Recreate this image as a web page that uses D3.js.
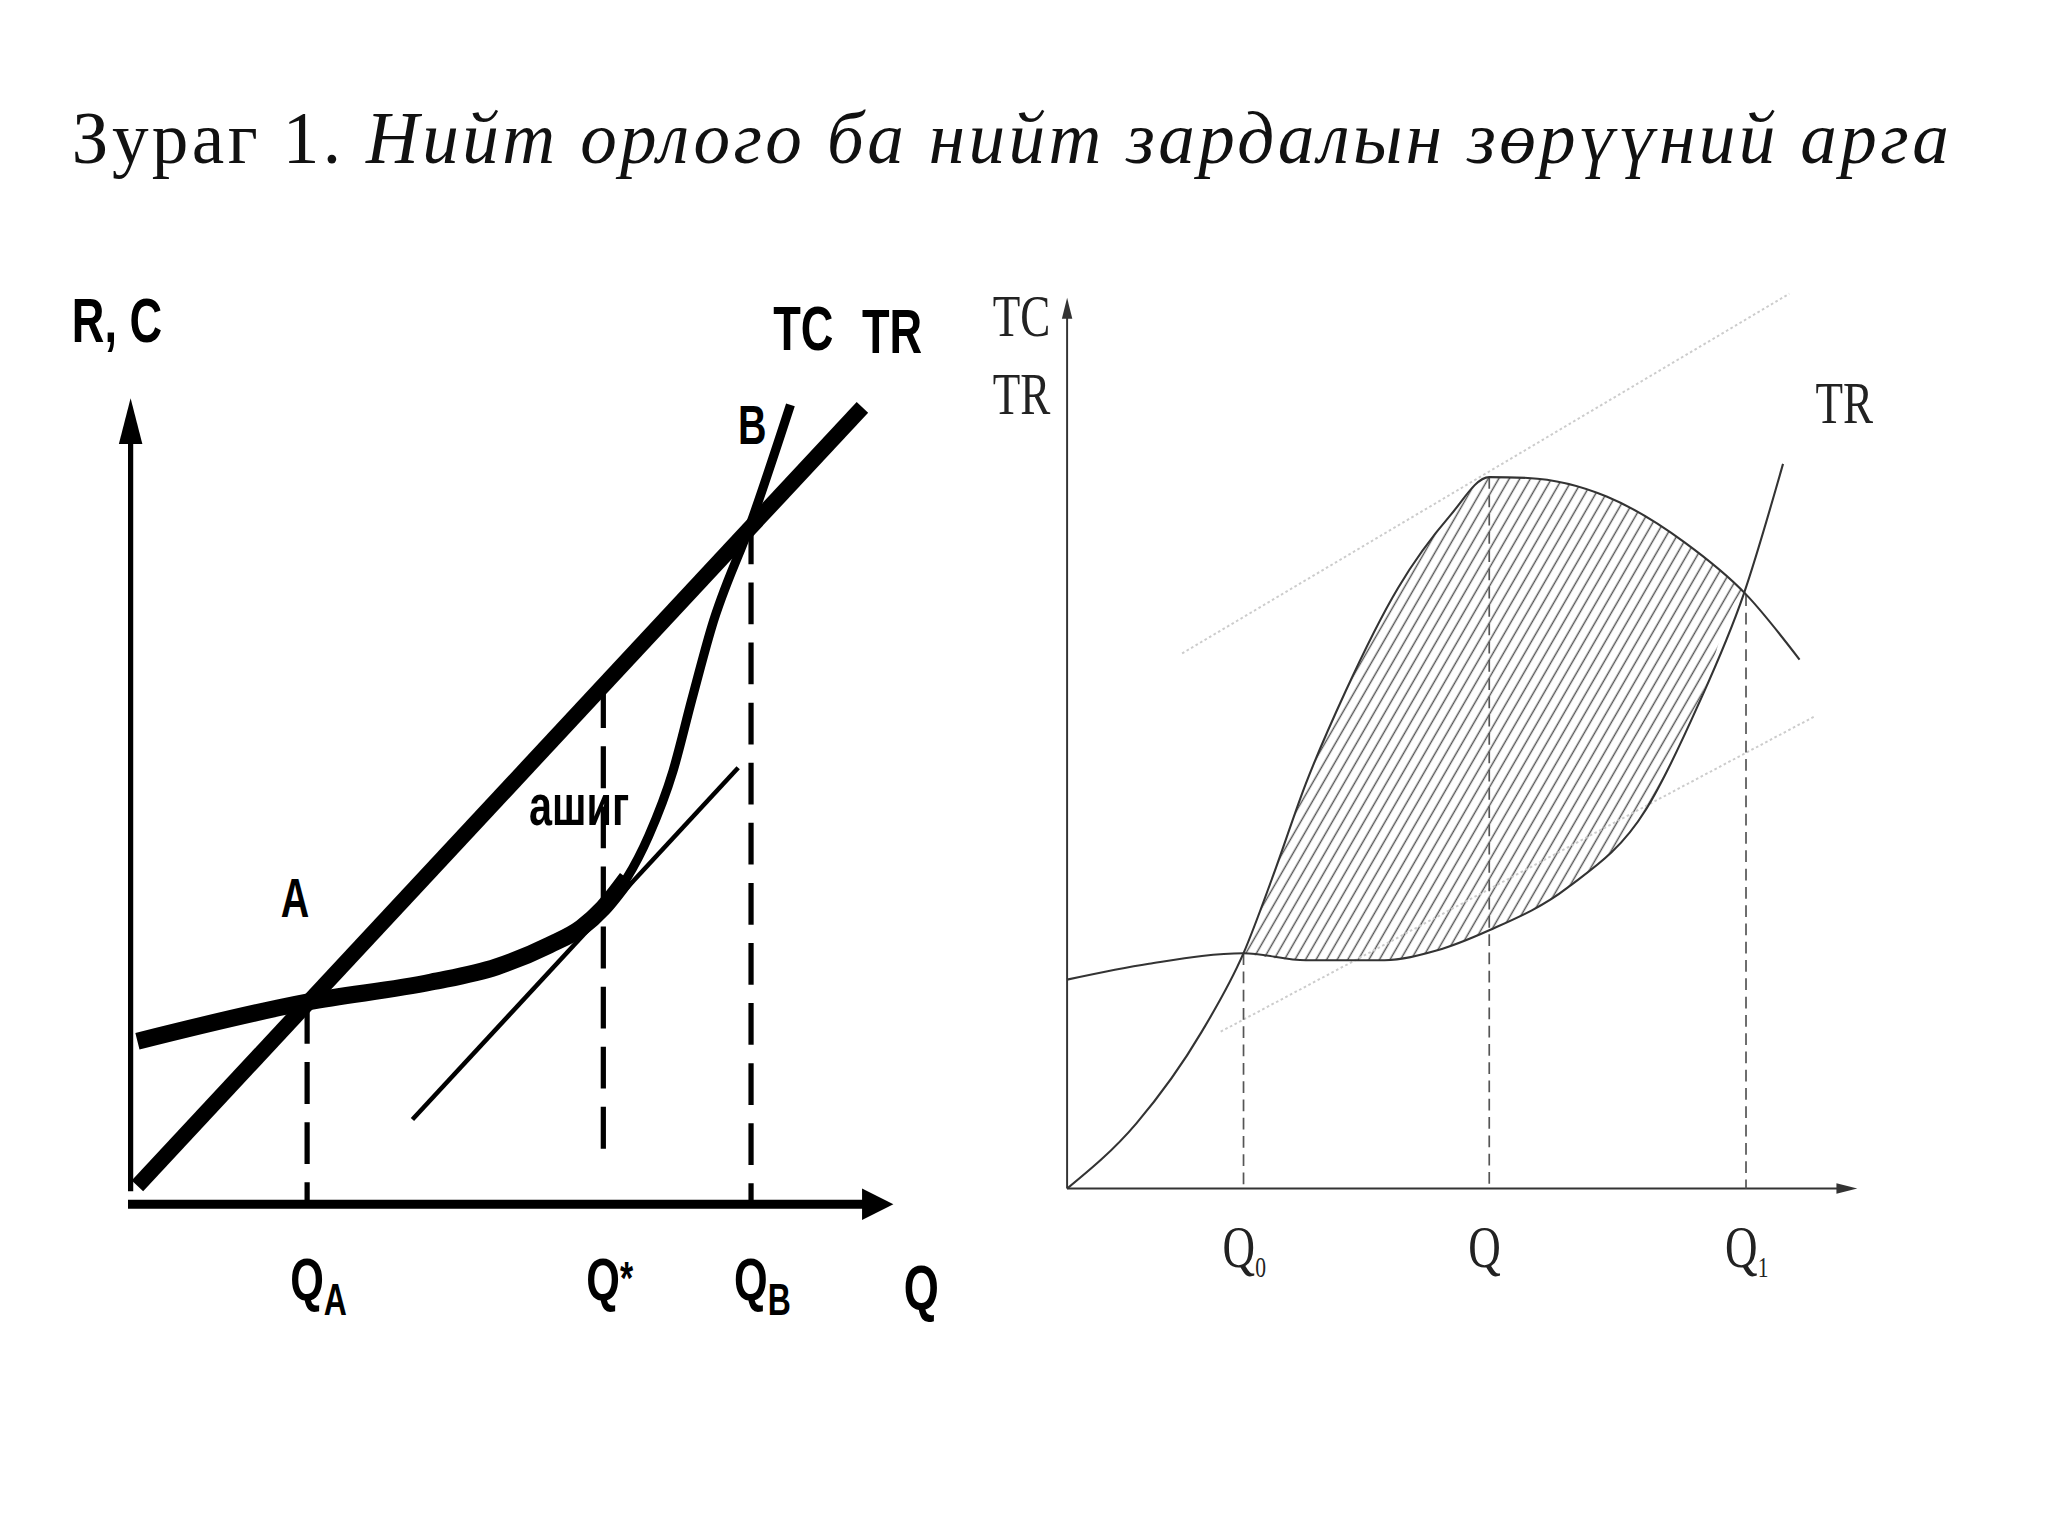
<!DOCTYPE html>
<html>
<head>
<meta charset="utf-8">
<script src="https://cdn.jsdelivr.net/npm/d3@7"></script>
<style>
  body { margin: 0; background: #fff; }
  .bold { font-family: "Liberation Sans Narrow", "Liberation Sans", sans-serif; font-weight: bold; }
  .serif { font-family: "Liberation Serif", "DejaVu Serif", serif; }
</style>
</head>
<body>
<svg id="chart"></svg>
<script>
// left chart data (Q, value)
const trLeft = [[0.09, 0.23], [9.66, 9.97]];
const tcLeft = [[0.09, 2.04], [2.33, 2.53], [3.97, 2.78], [4.83, 2.97], [5.52, 3.24], [5.95, 3.46],
                [6.24, 3.71], [6.55, 4.08], [6.84, 4.61], [7.16, 5.42], [7.41, 6.32], [7.67, 7.22],
                [8.19, 8.53], [8.71, 10.0]];
const tangentLeft = [[3.72, 1.06], [8.02, 5.46]];
const dropsLeft = [[2.33, 2.53, 0], [6.24, 6.48, 0.6], [8.19, 8.53, 0]];
const qLabelsLeft = [["Q", "A", 2.33], ["Q", "*", 6.24], ["Q", "B", 8.19]];

// right chart data
const tcRight = [[0, 2.37], [1.04, 2.55], [2.24, 2.67], [3.03, 2.59], [4.03, 2.59], [4.69, 2.70], [5.36, 2.93],
                 [6.35, 3.41], [7.35, 4.30], [8.01, 5.48], [8.59, 6.74], [9.09, 8.22]];
const trRight = [[0, 0], [0.88, 0.74], [1.71, 1.78], [2.24, 2.67], [2.62, 3.56], [3.03, 4.59], [3.53, 5.63],
                 [4.20, 6.81], [4.86, 7.63], [5.36, 8.07], [5.85, 8.06], [6.85, 7.85], [7.84, 7.33],
                 [8.62, 6.74], [9.30, 6.0]];
const faintLines = [[[1.46, 6.07], [9.17, 10.15]], [[1.95, 1.78], [9.5, 5.36]]];
const dropsRight = [[2.24, 2.67], [5.36, 8.07], [8.62, 6.74]];
const qLabelsRight = [["Q", "0", 2.24], ["Q", "", 5.36], ["Q", "1", 8.62]];

const svg = d3.select("#chart")
    .attr("width", 2048).attr("height", 1536)
    .attr("viewBox", "0 0 1568 1176");

// title
const title = svg.append("text").attr("class", "serif").attr("x", 55).attr("y", 125)
    .attr("font-size", 56).attr("fill", "#111").attr("textLength", 1437);
title.append("tspan").text("Зураг 1. ");
title.append("tspan").attr("font-style", "italic").text("Нийт  орлого ба нийт зардалын зөрүүний арга");

const squeeze = (sel, x, y, k) => sel.attr("transform", `translate(${x},${y}) scale(${k},1) translate(${-x},${-y})`);

// ---------- left chart ----------
const xL = d3.scaleLinear().domain([0, 10]).range([100, 680]);
const yL = d3.scaleLinear().domain([0, 10]).range([922, 310]);
const lineL = d3.line().x(d => xL(d[0])).y(d => yL(d[1]));
const gL = svg.append("g");

gL.append("line").attr("x1", 100).attr("y1", 912).attr("x2", 100).attr("y2", 335)
    .attr("stroke", "#000").attr("stroke-width", 4);
gL.append("path").attr("d", "M100,305 L91,340 L109,340 Z").attr("fill", "#000");
gL.append("line").attr("x1", 98).attr("y1", 922).attr("x2", 662).attr("y2", 922)
    .attr("stroke", "#000").attr("stroke-width", 7);
gL.append("path").attr("d", "M684,922 L660,910 L660,934 Z").attr("fill", "#000");

dropsLeft.forEach(d => {
    gL.append("line").attr("x1", xL(d[0])).attr("x2", xL(d[0]))
        .attr("y1", yL(d[1])).attr("y2", yL(d[2]))
        .attr("stroke", "#000").attr("stroke-width", 4).attr("stroke-dasharray", "32,14");
});

gL.append("path").datum(tangentLeft).attr("d", lineL).attr("fill", "none")
    .attr("stroke", "#000").attr("stroke-width", 3.5);
gL.append("path").datum(trLeft).attr("d", lineL).attr("fill", "none")
    .attr("stroke", "#000").attr("stroke-width", 12);
const tcLine = d3.line().x(d => xL(d[0])).y(d => yL(d[1])).curve(d3.curveMonotoneX);
gL.append("path").datum(tcLeft.slice(0, 8)).attr("d", tcLine).attr("fill", "none")
    .attr("stroke", "#000").attr("stroke-width", 13);
gL.append("path").datum(tcLeft.slice(6)).attr("d", tcLine).attr("fill", "none")
    .attr("stroke", "#000").attr("stroke-width", 7);

const boldText = (x, y, t, size) => squeeze(gL.append("text").attr("class", "bold")
    .attr("x", x).attr("y", y).attr("font-size", size || 40).text(t), x, y, 0.72);
boldText(55, 262, "R, C", 48);
boldText(592, 268, "TC", 48);
boldText(660, 270, "TR", 48);
boldText(565, 340, "B", 42);
boldText(215, 702, "A", 42);
boldText(405, 632, "ашиг", 44);
boldText(692, 1002, "Q", 48);
qLabelsLeft.forEach(d => {
    const x = xL(d[2]) - 13;
    const t = squeeze(gL.append("text").attr("class", "bold").attr("x", x).attr("y", 995)
        .attr("font-size", 46).text(d[0]), x, 995, 0.72);
    if (d[1] === "*") t.append("tspan").attr("dy", -4).attr("font-size", 36).text("*");
    else t.append("tspan").attr("dy", 12).attr("font-size", 34).text(d[1]);
});

// ---------- right chart ----------
const xR = d3.scaleLinear().domain([0, 10]).range([817, 1420]);
const yR = d3.scaleLinear().domain([0, 10]).range([910, 235]);
const lineR = d3.line().x(d => xR(d[0])).y(d => yR(d[1])).curve(d3.curveMonotoneX);
const gR = svg.append("g");

// hatched region between the curves, Q0..Q1
const upper = trRight.filter(d => d[0] >= 2.24 && d[0] <= 8.62);
const lower = tcRight.filter(d => d[0] >= 2.24 && d[0] <= 8.62);
lower.push([8.62, 6.74]);
const dUp = lineR(upper);
const dLow = lineR(lower.slice().reverse());
const defs = svg.append("defs");
defs.append("clipPath").attr("id", "region").append("path").attr("d", dUp + "L" + dLow.slice(1) + "Z");
const pat = defs.append("pattern").attr("id", "hatch").attr("patternUnits", "userSpaceOnUse")
    .attr("width", 7).attr("height", 7).attr("patternTransform", "rotate(30)");
pat.append("line").attr("x1", 1).attr("y1", 0).attr("x2", 1).attr("y2", 7)
    .attr("stroke", "#555").attr("stroke-width", 1.1);
gR.append("rect").attr("x", 900).attr("y", 300).attr("width", 500).attr("height", 500)
    .attr("fill", "url(#hatch)").attr("clip-path", "url(#region)");

faintLines.forEach(l => {
    gR.append("path").datum(l).attr("d", d3.line().x(d => xR(d[0])).y(d => yR(d[1])))
        .attr("stroke", "#ccc").attr("stroke-width", 1.5).attr("stroke-dasharray", "2,2").attr("fill", "none");
});

gR.append("line").attr("x1", xR(0)).attr("y1", yR(0)).attr("x2", xR(0)).attr("y2", 238)
    .attr("stroke", "#333").attr("stroke-width", 1.5);
gR.append("path").attr("d", "M817,228 L813,244 L821,244 Z").attr("fill", "#333");
gR.append("line").attr("x1", xR(0)).attr("y1", yR(0)).attr("x2", 1412).attr("y2", yR(0))
    .attr("stroke", "#333").attr("stroke-width", 1.5);
gR.append("path").attr("d", "M1422,910 L1406,906 L1406,914 Z").attr("fill", "#333");

dropsRight.forEach(d => {
    gR.append("line").attr("x1", xR(d[0])).attr("x2", xR(d[0])).attr("y1", yR(d[1])).attr("y2", yR(0))
        .attr("stroke", "#555").attr("stroke-width", 1.3).attr("stroke-dasharray", "9,5");
});

gR.append("path").datum(tcRight).attr("d", lineR).attr("fill", "none").attr("stroke", "#333").attr("stroke-width", 1.6);
gR.append("path").datum(trRight).attr("d", lineR).attr("fill", "none").attr("stroke", "#333").attr("stroke-width", 1.6);

const serifText = (x, y, t) => squeeze(gR.append("text").attr("class", "serif").attr("x", x).attr("y", y)
    .attr("font-size", 46).attr("fill", "#222").text(t), x, y, 0.75);
serifText(760, 257, "TC");
serifText(760, 317, "TR");
serifText(1390, 324, "TR");
qLabelsRight.forEach(d => {
    const x = xR(d[2]) - 16;
    const t = serifText(x, 970, d[0]);
    if (d[1]) t.append("tspan").attr("dy", 8).attr("font-size", 22).text(d[1]);
});
</script>
</body>
</html>
